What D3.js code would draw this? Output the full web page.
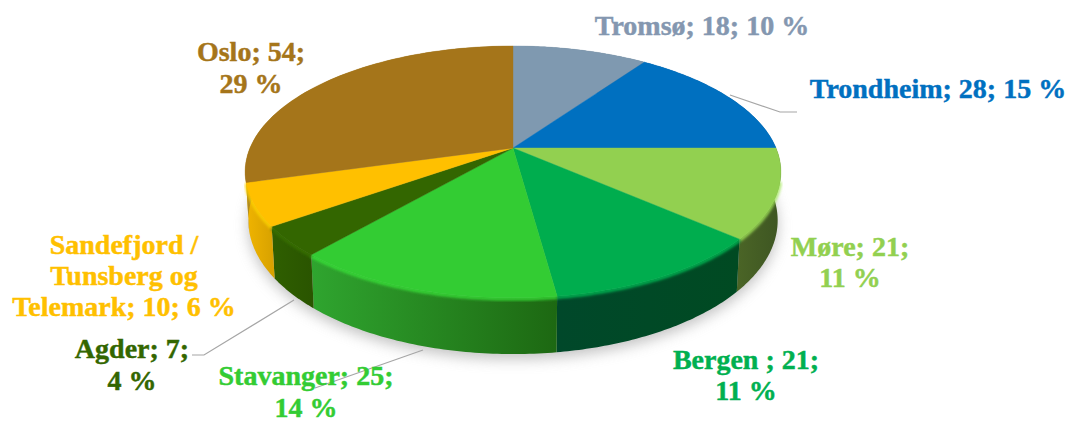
<!DOCTYPE html>
<html><head><meta charset="utf-8">
<script src="https://cdn.jsdelivr.net/npm/d3@7"></script>
<style>html,body{margin:0;padding:0;background:#fff}svg{display:block}text{font-family:"Liberation Serif",serif;font-weight:700;font-size:28px;text-anchor:middle;stroke-width:.45px;paint-order:stroke}</style>
</head><body><svg id="c" width="1071" height="423"></svg>
<script>
const cities=["Tromsø","Trondheim","Møre","Bergen ","Stavanger","Agder","Sandefjord / Tunsberg og Telemark","Oslo"];
const values=[18,28,21,21,25,7,10,54];
const percents=[10,15,11,11,14,4,6,29];
const topColors=["#7f99b0","#0070c0","#92d050","#00ad4e","#33cc33","#336600","#ffc000","#a5751a"];
const wallFrom=["#5f7385","#005490","#4a6426","#00482a","#2fa52f","#2f5f00","#f0b400","#b08a20"];
const wallTo=["#5f7385","#005490","#3d5522","#004a22","#1d6812","#2a5500","#d9a300","#8a6215"];
const textColors=["#8497b0","#0070c0","#92d050","#00b050","#33cc33","#336600","#ffc000","#a5751a"];
// label layout: centre x and baselines, one entry per line
const labelLines=[
 [["Tromsø; 18; 10 %",702,35]],
 [["Trondheim; 28; 15 %",938,98]],
 [["Møre; 21;",850,256],["11 %",850,287]],
 [["Bergen ; 21;",746,369],["11 %",746,400]],
 [["Stavanger; 25;",306,385],["14 %",306,417]],
 [["Agder; 7;",132,358],["4 %",132,390]],
 [["Sandefjord /",124,254],["Tunsberg og",124,285],["Telemark; 10; 6 %",124,316]],
 [["Oslo; 54;",251,61],["29 %",251,93]]
];
const leaders=[
 [[730,95],[780,112],[797,112]],
 [[294,300],[204,355],[192,355]],
 [[423,350],[315,388]]
];
const cx=513,cy=148,R=263,B=121.4,k=0.19,wallH=47;
const project=(a,d)=>{ // a angle clockwise from top; d=0 top face, d=1 bottom rim
  const u=Math.sin(a),v=-Math.cos(a),den=1-k*v,sh=1-0.012*d;
  return [cx+sh*R*u/den, cy+sh*B*v/den+d*wallH/den];
};
const svg=d3.select("#c"),defs=svg.append("defs");
const blur=defs.append("filter").attr("id","bl").attr("x","-20%").attr("y","-20%").attr("width","140%").attr("height","140%");
blur.append("feGaussianBlur").attr("stdDeviation",7);
const soft=defs.append("filter").attr("id","sf").attr("x","-5%").attr("y","-5%").attr("width","110%").attr("height","110%");
soft.append("feGaussianBlur").attr("stdDeviation",1.6);
const arcs=d3.pie().sort(null).value(d=>d)(values);
const samples=(s,e,n=60)=>d3.range(n+1).map(i=>s+(e-s)*i/n);
const line=d3.line();
// shadow
svg.append("path").attr("d",line(samples(0,2*Math.PI,180).map(a=>{const p=project(a,1);return [p[0],p[1]+5];}))+"Z")
 .attr("fill","#9a9a9a").attr("opacity",.6).attr("filter","url(#bl)");
// walls
arcs.forEach((d,i)=>{
 const as=samples(d.startAngle,d.endAngle);
 const t=as.map(a=>project(a,0)),b=as.map(a=>project(a,1)).reverse();
 const ext=d3.extent(t,p=>p[0]);
 const g=defs.append("linearGradient").attr("id","w"+i).attr("gradientUnits","userSpaceOnUse")
  .attr("x1",ext[0]).attr("x2",ext[1]).attr("y1",0).attr("y2",0);
 g.append("stop").attr("offset",0).attr("stop-color",wallFrom[i]);
 g.append("stop").attr("offset",1).attr("stop-color",wallTo[i]);
 svg.append("path").attr("d",line(t.concat(b))+"Z").attr("fill",`url(#w${i})`);
});
// bevel highlight along the front rim
arcs.forEach((d,i)=>{
 const as=samples(d.startAngle,d.endAngle).filter(a=>Math.cos(a)<-0.25);
 if(as.length<2)return;
 svg.append("path").attr("d",line(as.map(a=>{const p=project(a,0);return [p[0],p[1]+1];})))
  .attr("fill","none").attr("stroke",d3.color(topColors[i]).brighter(.3)).attr("stroke-width",3).attr("filter","url(#sf)");
});
// top faces
arcs.forEach((d,i)=>{
 const pts=[[cx,cy]].concat(samples(d.startAngle,d.endAngle).map(a=>project(a,0)));
 svg.append("path").attr("d",line(pts)+"Z").attr("fill",topColors[i]).attr("stroke",topColors[i]).attr("stroke-width",.4);
});
// leaders
leaders.forEach(l=>svg.append("path").attr("d",line(l)).attr("fill","none").attr("stroke","#a6a6a6").attr("stroke-width",1.2));
// labels
labelLines.forEach((ls,i)=>ls.forEach(l=>svg.append("text").attr("x",l[1]).attr("y",l[2]).attr("fill",textColors[i]).attr("stroke",textColors[i]).text(l[0])));
</script></body></html>
